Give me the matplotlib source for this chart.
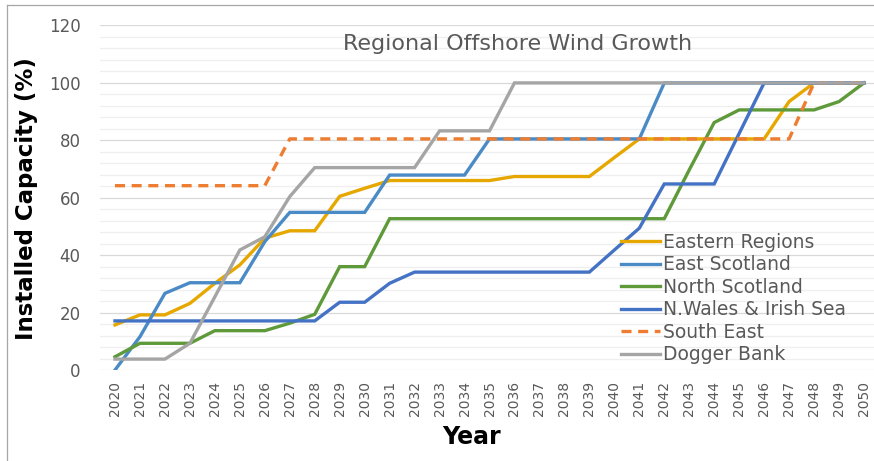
import matplotlib
matplotlib.use("Agg")
import matplotlib.pyplot as plt
from matplotlib.lines import Line2D
from matplotlib.ticker import MultipleLocator

years = list(range(2020, 2051))

eastern_regions = [15.7, 19.2, 19.2, 23.2, 30.2, 36.6, 45.9, 48.5, 48.5, 60.5,
                   63.3, 66, 66, 66, 66, 66, 67.4, 67.4, 67.4, 67.4,
                   74, 80.5, 80.5, 80.5, 80.5, 80.5, 80.5, 93.5, 100, 100, 100]
east_scotland = [0, 11.6, 26.7, 30.4, 30.4, 30.4, 44.7, 54.9, 54.9, 54.9,
                 54.9, 67.9, 67.9, 67.9, 67.9, 80.5, 80.5, 80.5, 80.5, 80.5,
                 80.5, 80.5, 100, 100, 100, 100, 100, 100, 100, 100, 100]
north_scotland = [4.6, 9.3, 9.3, 9.3, 13.7, 13.7, 13.7, 16.3, 19.4, 36,
                  36, 52.7, 52.7, 52.7, 52.7, 52.7, 52.7, 52.7, 52.7, 52.7,
                  52.7, 52.7, 52.7, 69.7, 86.2, 90.6, 90.6, 90.6, 90.6, 93.5, 100]
nwales_irish = [17.1, 17.1, 17.1, 17.1, 17.1, 17.1, 17.1, 17.1, 17.1, 23.6,
                23.6, 30.2, 34.1, 34.1, 34.1, 34.1, 34.1, 34.1, 34.1, 34.1,
                41.8, 49.4, 64.8, 64.8, 64.8, 82.4, 100, 100, 100, 100, 100]
south_east = [64.2, 64.2, 64.2, 64.2, 64.2, 64.2, 64.2, 80.5, 80.5, 80.5,
              80.5, 80.5, 80.5, 80.5, 80.5, 80.5, 80.5, 80.5, 80.5, 80.5,
              80.5, 80.5, 80.5, 80.5, 80.5, 80.5, 80.5, 80.5, 100, 100, 100]
dogger_bank = [3.8, 3.8, 3.8, 9.3, 25.5, 41.8, 46.4, 60.4, 70.5, 70.5,
               70.5, 70.5, 70.5, 83.3, 83.3, 83.3, 100, 100, 100, 100,
               100, 100, 100, 100, 100, 100, 100, 100, 100, 100, 100]

series_names = ["Eastern Regions", "East Scotland", "North Scotland",
                "N.Wales & Irish Sea", "South East", "Dogger Bank"]
series_values = [eastern_regions, east_scotland, north_scotland,
                 nwales_irish, south_east, dogger_bank]
colors = ["#E6A800", "#4A8BC6", "#5E9A3A", "#4472C4", "#EE7D31", "#A5A5A5"]
styles = ["-", "-", "-", "-", "--", "-"]

W, H = 874, 461
fig = plt.figure(figsize=(W / 100, H / 100), dpi=100)
fig.patch.set_facecolor("white")

ax_left, ax_right, ax_bottom, ax_top = 100, 874, 370, 25.5
ax = fig.add_axes([ax_left / W, 1 - ax_bottom / H,
                   (ax_right - ax_left) / W, (ax_bottom - ax_top) / H])

px_per_year = (864 - 115) / 30
ax.set_xlim(2020 - 15 / px_per_year, 2050 + 10 / px_per_year)
ax.set_ylim(0, 120)

for name, vals, c, ls in zip(series_names, series_values, colors, styles):
    if ls == "--":
        ax.plot(years, vals, color=c, lw=2.4, linestyle=(0, (3, 2)), label=name,
                solid_capstyle="butt", dash_capstyle="butt", zorder=3)
    else:
        ax.plot(years, vals, color=c, lw=2.4, label=name, zorder=3,
                solid_joinstyle="miter")

ax.yaxis.set_major_locator(MultipleLocator(20))
ax.yaxis.set_minor_locator(MultipleLocator(4))
ax.grid(axis="y", which="major", color="#D9D9D9", lw=0.9, zorder=0)
ax.grid(axis="y", which="minor", color="#EFEFEF", lw=0.9, zorder=0)
ax.set_axisbelow(True)
for s in ax.spines.values():
    s.set_visible(False)

ax.set_xticks(years)
ax.set_xticklabels([str(y) for y in years], rotation=90, fontsize=10,
                   color="#595959")
ax.tick_params(axis="x", length=0, pad=8)
ax.tick_params(axis="y", which="both", length=0, pad=14, labelsize=12,
               labelcolor="#595959")

leg = ax.legend(loc="upper left", bbox_to_anchor=(621 / W, 1 - 232.5 / H),
                bbox_transform=fig.transFigure, frameon=False, fontsize=13.5,
                handlelength=2.08, handletextpad=0.15, labelspacing=0.19,
                borderpad=0, borderaxespad=0)
for t in leg.get_texts():
    t.set_color("#595959")

fig.text(518 / W, 1 - 44 / H, "Regional Offshore Wind Growth", fontsize=16,
         color="#595959", ha="center", va="center")
fig.text(27 / W, 1 - 199 / H, "Installed Capacity (%)", fontsize=16.5,
         fontweight="bold", rotation=90, ha="center", va="center", color="black")
fig.text(471 / W, 1 - 437 / H, "Year", fontsize=17, fontweight="bold",
         ha="center", va="center", color="black")

fig.add_artist(Line2D([7 / W, 7 / W], [0, 1 - 5 / H], transform=fig.transFigure,
                      color="#A6A6A6", lw=0.9))
fig.add_artist(Line2D([7 / W, 1], [1 - 5 / H, 1 - 5 / H], transform=fig.transFigure,
                      color="#A6A6A6", lw=0.9))

fig.savefig("out.png", dpi=100, facecolor="white")
